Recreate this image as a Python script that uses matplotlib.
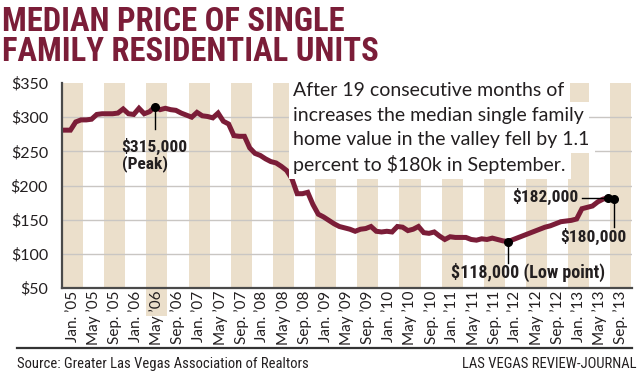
import matplotlib
matplotlib.use('Agg')
import matplotlib.pyplot as plt
import matplotlib.transforms as mtransforms
from matplotlib.patches import Rectangle
import numpy as np

# monthly median price ($ thousands), Jan. 2005 .. Sep. 2013
price = [281, 281, 293, 296, 296, 297, 304, 305, 305, 305,
         306, 312, 305, 304, 313, 305, 308, 315, 311, 313,
         311, 310, 306, 303, 300, 307, 302, 301, 299, 306,
         294, 290, 273, 272, 272, 255, 247, 244, 239, 235,
         233, 228, 222, 210, 188, 188, 190, 172, 158, 154,
         149, 144, 140, 138, 136, 133, 136, 137, 140, 133,
         132, 133, 132, 140, 139, 134, 136, 140, 131, 130,
         132, 126, 121, 125, 124, 124, 124, 121, 120, 122,
         121, 123, 121, 119, 118, 121, 124, 127, 130, 133,
         136, 139, 141, 144, 147, 148, 149, 151, 166, 168,
         170, 176, 180, 182, 180]

tick_labels = ["Jan. ’05", "May ’05", "Sep. ’05",
               "Jan. ’06", "May ’06", "Sep. ’06",
               "Jan. ’07", "May ’07", "Sep. ’07",
               "Jan. ’08", "May ’08", "Sep. ’08",
               "Jan. ’09", "May ’09", "Sep. ’09",
               "Jan. ’10", "May ’10", "Sep. ’10",
               "Jan. ’11", "May ’11", "Sep. ’11",
               "Jan. ’12", "May ’12", "Sep. ’12",
               "Jan. ’13", "May ’13", "Sep. ’13"]
y_ticks = [50, 100, 150, 200, 250, 300, 350]

peak_idx, low_idx, high_idx, last_idx = 17, 84, 103, 104
title = ["MEDIAN PRICE OF SINGLE", "FAMILY RESIDENTIAL UNITS"]
note = ["After 19 consecutive months of",
        "increases the median single family",
        "home value in the valley fell by 1.1",
        "percent to $180k in September."]

maroon = '#7b1d38'
beige = '#ebdfcb'
ink = '#231f20'
body = ['Lato', 'DejaVu Sans']
narrow = ['Roboto Condensed', 'Liberation Sans Narrow', 'Roboto', 'DejaVu Sans']

fig = plt.figure(figsize=(6.4, 3.83), dpi=100)
ax = fig.add_axes([62 / 640, 1 - 288 / 383, 570 / 640, 205 / 383])

x = np.arange(len(price))
tick_pos = 1.4 + 4 * np.arange(len(tick_labels))

# alternating beige bands, every other tick
for i, t in enumerate(tick_pos):
    if i % 2 == 0:
        ax.axvspan(t - 2, t + 2, color=beige, lw=0, zorder=0)
# band under the peak-month label
trans = mtransforms.blended_transform_factory(ax.transData, ax.transAxes)
ax.add_patch(Rectangle((tick_pos[4] - 2, -0.135), 4, 0.135, transform=trans,
                       color=beige, lw=0, clip_on=False, zorder=0))

for v in y_ticks[1:-1]:
    ax.axhline(v, color='#c9c6c3', lw=1, zorder=1)

ax.plot(x, price, color=maroon, lw=3.6, solid_joinstyle='miter', zorder=3)

ax.set_xlim(-0.6, 107.5)
ax.set_ylim(50, 350)
ax.set_yticks(y_ticks)
ax.set_yticklabels(['$%d' % v for v in y_ticks], family=body, fontsize=11.5, color=ink)
ax.set_xticks(tick_pos)
ax.set_xticklabels(tick_labels, rotation=90, family=body, fontsize=11, color=ink)
ax.tick_params(axis='y', length=0, pad=10)
ax.tick_params(axis='x', length=0, pad=2)
for s in ['top', 'right']:
    ax.spines[s].set_visible(False)
for s in ['left', 'bottom']:
    ax.spines[s].set_color('#4a4a4a')
    ax.spines[s].set_linewidth(1.6)
    ax.spines[s].set_zorder(4)

# annotations
dot = dict(marker='o', color='black', ms=5.5, zorder=5, ls='none')
ax.plot([peak_idx, low_idx, high_idx, last_idx],
        [price[peak_idx], price[low_idx], price[high_idx], price[last_idx]], **dot)
ax.plot([peak_idx, peak_idx], [price[peak_idx], 283], color='black', lw=1, zorder=4)
ax.text(peak_idx - 6.3, 269, '$315,000\n(Peak)', family=narrow, fontsize=12.5,
        fontweight='bold', color=ink, va='top', ha='left', linespacing=1.0)
ax.plot([low_idx, low_idx], [price[low_idx], 87], color='black', lw=1, zorder=4)
ax.text(87.8, 73, '$118,000 (Low point)', family=narrow, fontsize=13,
        fontweight='bold', color=ink, va='center', ha='center')
ax.plot([high_idx, 98], [price[high_idx], price[high_idx]], color='black', lw=1, zorder=4)
ax.text(97.3, price[high_idx] + 1.5, '$182,000', family=narrow, fontsize=12.5,
        fontweight='bold', color=ink, va='center', ha='right')
ax.plot([last_idx, last_idx], [price[last_idx], 139], color='black', lw=1, zorder=4)
ax.text(106.4, 125, '$180,000', family=narrow, fontsize=12.5,
        fontweight='bold', color=ink, va='center', ha='right')

for i, line in enumerate(note):
    ax.text(43.3, 339 - i * 36, line, family=body, fontsize=14, color=ink,
            va='center', ha='left', zorder=6,
            bbox=dict(fc='white', ec='none', pad=3.5))

# title and footer
for i, line in enumerate(title):
    fig.text(2 / 640, 1 - (31 + 30 * i) / 383, line, family=narrow, fontsize=23.5,
             fontweight='bold', color=maroon, va='baseline', ha='left')
fig.add_artist(plt.Line2D([17 / 640, 632 / 640], [1 - 348 / 383, 1 - 348 / 383],
                          color='#333333', lw=1.6))
fig.text(17 / 640, 1 - 364 / 383, 'Source: Greater Las Vegas Association of Realtors',
         family=narrow, fontsize=10.5, color=ink, va='center', ha='left')
fig.text(636 / 640, 1 - 364 / 383, 'LAS VEGAS REVIEW-JOURNAL',
         family=narrow, fontsize=10.5, color=ink, va='center', ha='right')

fig.savefig('out.png', dpi=100)
